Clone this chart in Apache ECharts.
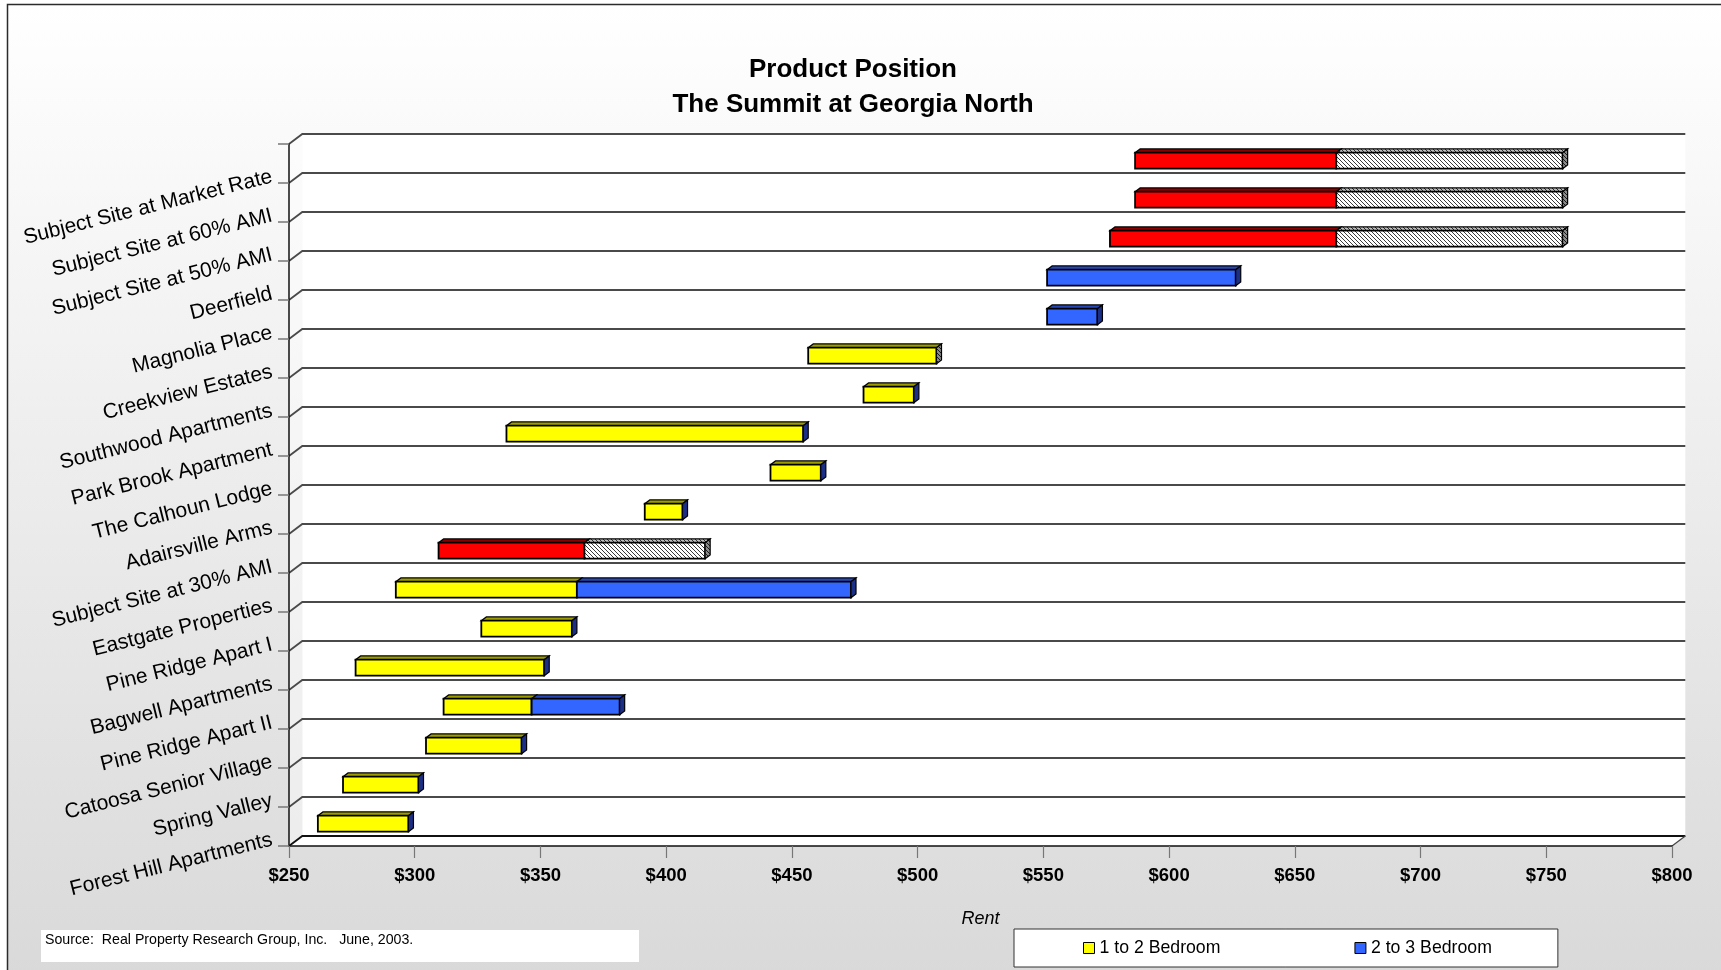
<!DOCTYPE html>
<html>
<head>
<meta charset="utf-8">
<title>Product Position</title>
<script src="https://cdn.jsdelivr.net/npm/echarts@6/dist/echarts.min.js"></script>
<style>
  html, body { margin: 0; padding: 0; background: #ffffff; }
  #chart { width: 1721px; height: 970px; }
</style>
</head>
<body>
<div id="chart"></div>
<script>
// Properties, listed top to bottom
const categories = [
  'Subject Site at Market Rate',
  'Subject Site at 60% AMI',
  'Subject Site at 50% AMI',
  'Deerfield',
  'Magnolia Place',
  'Creekview Estates',
  'Southwood Apartments',
  'Park Brook Apartment',
  'The Calhoun Lodge',
  'Adairsville Arms',
  'Subject Site at 30% AMI',
  'Eastgate Properties',
  'Pine Ridge Apart I',
  'Bagwell Apartments',
  'Pine Ridge Apart II',
  'Catoosa Senior Village',
  'Spring Valley',
  'Forest Hill Apartments'
];

// Rent ranges (dollars per month); null where the unit type is not offered
const oneTwoLow  = [585, 585, 575, null, null, 455, 477, 335, 440, 390, 308, 291, 325, 275, 310, 303, 270, 260];
const oneTwoHigh = [665, 665, 665, null, null, 506, 497, 453, 460, 405, 366, 363, 361, 350, 345, 341, 300, 296];
const twoThreeLow  = [665, 665, 665, 550, 550, null, null, null, null, null, 366, 363, null, null, 345, null, null, null];
const twoThreeHigh = [755, 755, 755, 625, 570, null, null, null, null, null, 414, 472, null, null, 380, null, null, null];

// Rent axis ticks
const rentTicks = [250, 300, 350, 400, 450, 500, 550, 600, 650, 700, 750, 800];

const seriesNames = ['1 to 2 Bedroom', '2 to 3 Bedroom'];

// ---- drawing setup ----
const FONT = '"Liberation Sans", Arial, sans-serif';
const DEPTH_X = 13.3, DEPTH_Y = -10;        // receding offset of the back wall
const BAR_FRONT = 0.28, BAR_BACK = 0.66;    // bar depth as fraction of wall depth
const BAR_H = 0.41;                         // bar height as fraction of a band

const isSubject = name => name.indexOf('Subject Site') === 0;
const hatchedEnds = new Set(['Creekview Estates']);

function hatch(bg, fg) {
  const c = document.createElement('canvas');
  c.width = 4; c.height = 4;
  const g = c.getContext('2d');
  g.fillStyle = bg; g.fillRect(0, 0, 4, 4);
  g.fillStyle = fg;
  for (let i = 0; i < 4; i++) g.fillRect(i, i, 1, 1);
  return { image: c, repeat: 'repeat' };
}
const HATCH_FRONT = hatch('#ffffff', '#3a3a3a');
const HATCH_TOP = hatch('#bdbdbd', '#2a2a2a');
const HATCH_SIDE = hatch('#8a8a8a', '#1a1a1a');

const COLORS = {
  yellow: { front: '#ffff00', top: '#9c9c00' },
  red: { front: '#ff0000', top: '#8e0000' },
  blue: { front: '#3366ff', top: '#2748b8', side: '#1c2f86' },
  hatch: { front: HATCH_FRONT, top: HATCH_TOP, side: HATCH_SIDE }
};

function barBox(api, cat, lo, hi) {
  const band = api.size([0, 1])[1];
  const a = api.coord([lo, cat]);
  const b = api.coord([hi, cat]);
  const h = band * BAR_H;
  const x0 = a[0] + DEPTH_X * BAR_FRONT;
  const x1 = b[0] + DEPTH_X * BAR_FRONT;
  const y0 = a[1] + DEPTH_Y * BAR_FRONT - h / 2;
  const dx = DEPTH_X * (BAR_BACK - BAR_FRONT);
  const dy = DEPTH_Y * (BAR_BACK - BAR_FRONT);
  return { x0, x1, y0, y1: y0 + h, dx, dy };
}

function frontAndTop(box, pal, children) {
  if (box.x1 - box.x0 <= 0.01) return;
  children.push({
    type: 'polygon',
    shape: { points: [[box.x0, box.y0], [box.x1, box.y0], [box.x1 + box.dx, box.y0 + box.dy], [box.x0 + box.dx, box.y0 + box.dy]] },
    style: { fill: pal.top, stroke: '#000', lineWidth: 1.2 }
  });
  children.push({
    type: 'rect',
    shape: { x: box.x0, y: box.y0, width: box.x1 - box.x0, height: box.y1 - box.y0 },
    style: { fill: pal.front, stroke: '#000', lineWidth: 1.8 }
  });
}

function sideFace(box, fill, children) {
  children.push({
    type: 'polygon',
    shape: { points: [[box.x1, box.y0], [box.x1 + box.dx, box.y0 + box.dy], [box.x1 + box.dx, box.y1 + box.dy], [box.x1, box.y1]] },
    style: { fill: fill, stroke: '#000', lineWidth: 1.2 }
  });
}

function renderOneTwo(params, api) {
  const cat = api.value(0);
  const box = barBox(api, cat, api.value(1), api.value(2));
  const pal = isSubject(categories[cat]) ? COLORS.red : COLORS.yellow;
  const children = [];
  frontAndTop(box, pal, children);
  return { type: 'group', children };
}

function renderTwoThree(params, api) {
  const cat = api.value(0);
  const name = categories[cat];
  const box = barBox(api, cat, api.value(1), api.value(2));
  const pal = isSubject(name) ? COLORS.hatch : COLORS.blue;
  const children = [];
  frontAndTop(box, pal, children);
  const endFill = (isSubject(name) || hatchedEnds.has(name)) ? HATCH_SIDE : COLORS.blue.side;
  sideFace(box, endFill, children);
  return { type: 'group', children };
}

// Walls, floor and receding gridlines of the plot box
function renderFrame(params, api) {
  const cs = params.coordSys;
  const L = cs.x, R = cs.x + cs.width, T = cs.y, B = cs.y + cs.height;
  const band = api.size([0, 1])[1];
  const children = [
    { type: 'polygon', shape: { points: [[L + DEPTH_X, T + DEPTH_Y], [R + DEPTH_X, T + DEPTH_Y], [R + DEPTH_X, B + DEPTH_Y], [L + DEPTH_X, B + DEPTH_Y]] }, style: { fill: '#ffffff' } },
    { type: 'polygon', shape: { points: [[L, T], [L + DEPTH_X, T + DEPTH_Y], [L + DEPTH_X, B + DEPTH_Y], [L, B]] }, style: { fill: 'rgba(255,255,255,0.45)' } },
    { type: 'polygon', shape: { points: [[L, B], [L + DEPTH_X, B + DEPTH_Y], [R + DEPTH_X, B + DEPTH_Y], [R, B]] }, style: { fill: '#ffffff' } }
  ];
  for (let k = 0; k <= categories.length; k++) {
    const y = T + k * band;
    const last = k === categories.length;
    children.push({
      type: 'polyline',
      shape: { points: [[L, y], [L + DEPTH_X, y + DEPTH_Y], [R + DEPTH_X, y + DEPTH_Y]] },
      style: { stroke: last ? '#111111' : '#4a4a4a', lineWidth: 1.8, fill: null }
    });
  }
  children.push({
    type: 'line',
    shape: { x1: R + DEPTH_X, y1: B + DEPTH_Y, x2: R, y2: B },
    style: { stroke: '#444444', lineWidth: 1.2 }
  });
  return { type: 'group', children };
}

const oneTwoData = [];
const twoThreeData = [];
categories.forEach((name, i) => {
  if (oneTwoLow[i] != null) oneTwoData.push([i, oneTwoLow[i], oneTwoHigh[i]]);
  const lo = twoThreeLow[i] != null ? twoThreeLow[i] : oneTwoHigh[i];
  const hi = twoThreeHigh[i] != null ? twoThreeHigh[i] : oneTwoHigh[i];
  twoThreeData.push([i, lo, hi]);
});

const chart = echarts.init(document.getElementById('chart'), null, { renderer: 'canvas' });

const plot = { left: 289, top: 144, width: 1383, height: 702 };

chart.setOption({
  animation: false,
  textStyle: { fontFamily: FONT },
  graphic: [
    {
      type: 'rect', z: -100, silent: true,
      shape: { x: 7.5, y: 4.5, width: 1800, height: 1000 },
      style: {
        fill: { type: 'linear', x: 0, y: 0, x2: 0, y2: 1, colorStops: [
          { offset: 0, color: '#ffffff' }, { offset: 1, color: '#d8d8d8' } ] },
        stroke: '#2b2b2b', lineWidth: 1.5
      }
    },
    {
      type: 'text', z: 10,
      x: 853, y: 70,
      style: { text: 'Product Position', fill: '#000', font: 'bold 26px ' + FONT, align: 'center', verticalAlign: 'middle' }
    },
    {
      type: 'text', z: 10,
      x: 853, y: 105,
      style: { text: 'The Summit at Georgia North', fill: '#000', font: 'bold 26px ' + FONT, align: 'center', verticalAlign: 'middle' }
    },
    {
      type: 'rect', z: 5,
      shape: { x: 41, y: 930, width: 598, height: 32 },
      style: { fill: '#ffffff' }
    },
    {
      type: 'text', z: 10,
      x: 45, y: 940,
      style: { text: 'Source:  Real Property Research Group, Inc.   June, 2003.', fill: '#000', font: '14.2px ' + FONT, align: 'left', verticalAlign: 'middle' }
    }
  ],
  legend: {
    left: 1014, top: 929,
    padding: [10, 66, 10, 69],
    itemGap: 134,
    itemWidth: 11, itemHeight: 11,
    backgroundColor: '#ffffff',
    borderColor: '#333333', borderWidth: 1,
    selectedMode: false,
    textStyle: { fontSize: 17.7, color: '#000', fontFamily: FONT },
    data: [
      { name: seriesNames[0], icon: 'rect', itemStyle: { color: COLORS.yellow.front, borderColor: '#000', borderWidth: 1 } },
      { name: seriesNames[1], icon: 'rect', itemStyle: { color: COLORS.blue.front, borderColor: '#000', borderWidth: 1 } }
    ]
  },
  grid: [
    Object.assign({ containLabel: false }, plot),
    { left: plot.left, top: plot.top + 13, width: plot.width, height: plot.height, containLabel: false }
  ],
  xAxis: [
    {
      type: 'value', gridIndex: 0,
      min: rentTicks[0], max: rentTicks[rentTicks.length - 1], interval: rentTicks[1] - rentTicks[0],
      axisLine: { show: true, lineStyle: { color: '#111', width: 1.5 } },
      axisTick: { show: true, length: 12, lineStyle: { color: '#777', width: 1.2 } },
      splitLine: { show: false },
      axisLabel: { formatter: v => '$' + v, fontWeight: 'bold', fontSize: 18.5, color: '#000', margin: 20, fontFamily: FONT },
      name: 'Rent', nameLocation: 'middle', nameGap: 64,
      nameTextStyle: { fontStyle: 'italic', fontSize: 18, color: '#000', fontFamily: FONT }
    },
    { type: 'value', gridIndex: 1, show: false, min: rentTicks[0], max: rentTicks[rentTicks.length - 1] }
  ],
  yAxis: [
    {
      type: 'category', gridIndex: 0, data: categories, inverse: true,
      axisLine: { show: true, lineStyle: { color: '#111', width: 1.5 } },
      axisTick: { show: true, interval: 0, length: 11, lineStyle: { color: '#777', width: 1.5 } },
      axisLabel: { show: false },
      splitLine: { show: false }
    },
    {
      type: 'category', gridIndex: 1, data: categories, inverse: true,
      axisLine: { show: false }, axisTick: { show: false }, splitLine: { show: false },
      axisLabel: { interval: 0, rotate: 14, margin: 17, fontSize: 21, color: '#000', fontFamily: FONT }
    }
  ],
  series: [
    {
      type: 'custom', name: 'frame', z: -1, silent: true,
      xAxisIndex: 0, yAxisIndex: 0,
      data: [[0, rentTicks[0], rentTicks[0]]],
      encode: { x: [1, 2], y: 0 },
      renderItem: renderFrame
    },
    {
      type: 'custom', name: seriesNames[0],
      xAxisIndex: 0, yAxisIndex: 0,
      itemStyle: { color: COLORS.yellow.front },
      data: oneTwoData,
      encode: { x: [1, 2], y: 0 },
      renderItem: renderOneTwo
    },
    {
      type: 'custom', name: seriesNames[1],
      xAxisIndex: 0, yAxisIndex: 0,
      itemStyle: { color: COLORS.blue.front },
      data: twoThreeData,
      encode: { x: [1, 2], y: 0 },
      renderItem: renderTwoThree
    }
  ]
});
</script>
</body>
</html>
